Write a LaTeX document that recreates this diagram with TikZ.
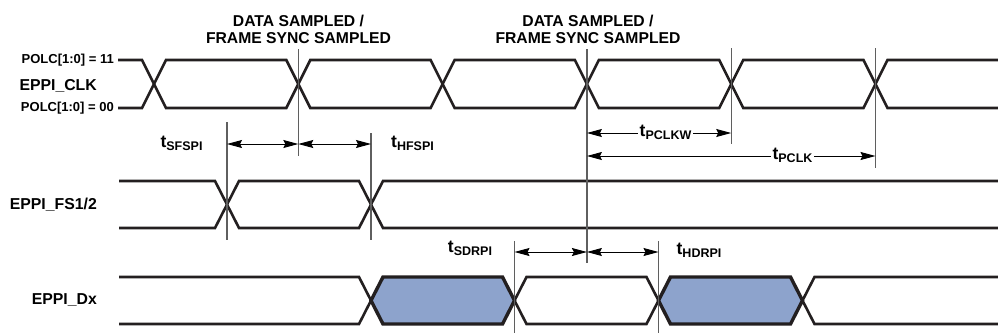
\documentclass[tikz,border=0pt]{standalone}
\usepackage{fontspec}
\setmainfont{Liberation Sans}
\usetikzlibrary{arrows.meta}
\definecolor{dblue}{RGB}{141,163,204}
\definecolor{vgray}{RGB}{95,95,95}
\definecolor{sigk}{RGB}{35,31,32}
\newcommand{\tsub}[1]{t{\fontsize{12.5}{13}\selectfont\raisebox{-3.6pt}{#1}}}
\begin{document}
\begin{tikzpicture}[x=1pt,y=-1pt,
  sig/.style={line width=2.6pt, sigk, line join=miter},
  bus/.style={line width=3.4pt, sigk, line join=miter, fill=dblue},
  refl/.style={line width=1.3pt, vgray},
  dim/.style={line width=0.9pt, black, {Stealth[length=15pt,width=8pt,inset=2pt]}-{Stealth[length=15pt,width=8pt,inset=2pt]}},
  lbl/.style={font=\bfseries\fontsize{15.8}{17}\selectfont, inner sep=0pt},
  plbl/.style={font=\bfseries\fontsize{13}{15}\selectfont, inner sep=0pt},
  tlbl/.style={font=\bfseries\fontsize{17.5}{18}\selectfont, inner sep=0pt},
  hdr/.style={font=\bfseries\fontsize{15.7}{17}\selectfont, inner sep=0pt, align=center}]
\useasboundingbox (0,0) rectangle (998,333);

% ---- clock
\draw[sig] (118,60) -- (142,60) -- (166,108) -- (286.3,108) -- (310.3,60) -- (430.6,60) -- (454.6,108) -- (574.9,108) -- (598.9,60) -- (719.2,60) -- (743.2,108) -- (863.5,108) -- (887.5,60) -- (998,60);
\draw[sig] (118,108) -- (142,108) -- (166,60) -- (286.3,60) -- (310.3,108) -- (430.6,108) -- (454.6,60) -- (574.9,60) -- (598.9,108) -- (719.2,108) -- (743.2,60) -- (863.5,60) -- (887.5,108) -- (998,108);

% ---- frame sync
\draw[sig] (119,181) -- (215,181) -- (239,228) -- (359,228) -- (383,181) -- (998,181);
\draw[sig] (119,228) -- (215,228) -- (239,181) -- (359,181) -- (383,228) -- (998,228);

% ---- data
\draw[sig] (119,277) -- (359,277) -- (371,300.5) -- (359,324) -- (119,324);
\draw[sig] (514.5,300.5) -- (526.5,277) -- (646.5,277) -- (658.5,300.5) -- (646.5,324) -- (526.5,324) -- cycle;
\draw[sig] (998,277) -- (814.5,277) -- (802.5,300.5) -- (814.5,324) -- (998,324);
\draw[bus] (371,300.5) -- (383,277) -- (502.5,277) -- (514.5,300.5) -- (502.5,324) -- (383,324) -- cycle;
\draw[bus] (658.5,300.5) -- (670.5,277) -- (790.5,277) -- (802.5,300.5) -- (790.5,324) -- (670.5,324) -- cycle;

% ---- reference lines
\coordinate (r1t) at (298.3,49);  \coordinate (r1b) at (298.3,156);
\coordinate (r2t) at (586.9,49);  \coordinate (r2b) at (586.9,263);
\coordinate (r3t) at (731.2,48);  \coordinate (r3b) at (731.2,144);
\coordinate (r4t) at (875.5,48);  \coordinate (r4b) at (875.5,168);
\coordinate (f1t) at (227,122);   \coordinate (f1b) at (227,240);
\coordinate (f2t) at (371,133);   \coordinate (f2b) at (371,240);
\coordinate (d1t) at (514.5,241); \coordinate (d1b) at (514.5,333);
\coordinate (d2t) at (658.5,241); \coordinate (d2b) at (658.5,333);
\foreach \a in {r1,r2,r3,r4,f1,f2,d1,d2} \draw[refl] (\a t) -- (\a b);

% ---- dimension arrows
\coordinate (a1) at (227,144); \coordinate (a2) at (298.3,144); \coordinate (a3) at (371,144);
\draw[dim] (a1) -- (a2);
\draw[dim] (a2) -- (a3);
\coordinate (b1) at (514.5,252); \coordinate (b2) at (586.9,252); \coordinate (b3) at (658.5,252);
\draw[dim] (b1) -- (b2);
\draw[dim] (b2) -- (b3);
\coordinate (c1) at (586.9,133); \coordinate (c2) at (731.2,133);
\draw[dim] (c1) -- (c2);
\coordinate (e1) at (586.9,156); \coordinate (e2) at (875.5,156);
\draw[dim] (e1) -- (e2);

% ---- timing labels
\node[tlbl, anchor=base] (tsf) at (181.5,147) {\tsub{SFSPI}};
\node[tlbl, anchor=base] (thf) at (412.5,147) {\tsub{HFSPI}};
\node[tlbl, anchor=base] (tsd) at (470,252) {\tsub{SDRPI}};
\node[tlbl, anchor=base] (thd) at (699,254) {\tsub{HDRPI}};
\node[tlbl, anchor=base, fill=white, inner xsep=2pt, inner ysep=1pt] (tpw) at (665.5,136) {\tsub{PCLKW}};
\node[tlbl, anchor=base, fill=white, inner xsep=2pt, inner ysep=1pt] (tpc) at (792.5,159) {\tsub{PCLK}};

% ---- signal names
\node[plbl, anchor=east] (p11) at (114,60) {POLC[1:0] = 11};
\node[lbl, anchor=east] (clk) at (97,86) {EPPI\_CLK};
\node[plbl, anchor=east] (p00) at (114,108) {POLC[1:0] = 00};
\node[lbl, anchor=east] (fs) at (97,205) {EPPI\_FS1/2};
\node[lbl, anchor=east] (dx) at (97,300) {EPPI\_Dx};

% ---- headers
\node[hdr] (h1) at (298.5,29.5) {DATA SAMPLED /\\FRAME SYNC SAMPLED};
\node[hdr] (h2) at (588,29.5) {DATA SAMPLED /\\FRAME SYNC SAMPLED};
\end{tikzpicture}
\end{document}
